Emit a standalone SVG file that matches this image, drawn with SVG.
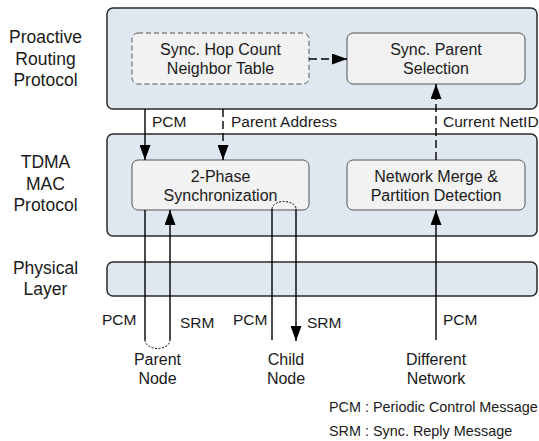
<svg xmlns="http://www.w3.org/2000/svg" width="539" height="441" viewBox="0 0 539 441">
<defs>
<marker id="ah" viewBox="0 0 15 11" refX="15" refY="5.5" markerWidth="15" markerHeight="11" markerUnits="userSpaceOnUse" orient="auto">
<path d="M0,0 L15,5.5 L0,11 Z" fill="#000"/>
</marker>
<style>
text{font-family:"Liberation Sans",Arial,sans-serif;fill:#1a1a1a}
.layer{font-size:17.5px;text-anchor:middle}
.panel{fill:#dfe7f0;stroke:#2b2b2b;stroke-width:1.5}
.box{fill:#f2f2f2;stroke:#555;stroke-width:1}
.bt{font-size:16px;text-anchor:middle}
.lbl{font-size:15.5px}
.nd{font-size:16px;text-anchor:middle}
.lg{font-size:14.4px}
.c{fill:none;stroke:#000;stroke-width:1.4}
.d{stroke-dasharray:8,4}
.dot{fill:none;stroke:#000;stroke-width:1;stroke-dasharray:2,1.5}
</style>
</defs>
<g id="layer-labels">
<text class="layer" x="45.5" y="43">Proactive</text>
<text class="layer" x="45.5" y="64.5">Routing</text>
<text class="layer" x="45.5" y="86">Protocol</text>
<text class="layer" x="45.5" y="168">TDMA</text>
<text class="layer" x="45.5" y="189.5">MAC</text>
<text class="layer" x="45.5" y="211">Protocol</text>
<text class="layer" x="45.5" y="274">Physical</text>
<text class="layer" x="45.5" y="294.5">Layer</text>
</g>
<g id="routing-panel"><rect class="panel" x="107" y="8" width="430" height="101" rx="6"/></g>
<g id="mac-panel"><rect class="panel" x="107" y="134" width="430" height="102" rx="6"/></g>
<g id="phy-panel"><rect class="panel" x="107" y="262" width="430" height="34" rx="6"/></g>
<g id="hop-table"><rect class="box" x="132" y="33" width="177" height="51" rx="6" stroke-dasharray="5,3"/>
<text class="bt" x="220.5" y="55">Sync. Hop Count</text><text class="bt" x="220.5" y="73.5">Neighbor Table</text></g>
<g id="parent-selection"><rect class="box" x="347" y="33" width="178" height="51" rx="6"/>
<text class="bt" x="436" y="55">Sync. Parent</text><text class="bt" x="436" y="73.5">Selection</text></g>
<g id="two-phase"><rect class="box" x="132" y="160" width="177" height="50" rx="6"/>
<text class="bt" x="220.5" y="182">2-Phase</text><text class="bt" x="220.5" y="200.5">Synchronization</text></g>
<g id="merge-detect"><rect class="box" x="347" y="160" width="178" height="50" rx="6"/>
<text class="bt" x="436" y="182">Network Merge &amp;</text><text class="bt" x="436" y="200.5">Partition Detection</text></g>
<g id="connectors">
<line class="c d" x1="309" y1="59" x2="347" y2="59" marker-end="url(#ah)"/>
<line class="c" x1="145" y1="109" x2="145" y2="160" marker-end="url(#ah)"/>
<line class="c d" x1="223" y1="109" x2="223" y2="160" marker-end="url(#ah)"/>
<line class="c d" x1="436" y1="160" x2="436" y2="84" marker-end="url(#ah)"/>
<line class="c" x1="145" y1="210" x2="145" y2="340"/>
<path class="dot" d="M145,340 A12.5,8.5 0 0 0 170,340"/>
<line class="c" x1="170" y1="340" x2="170" y2="210" marker-end="url(#ah)"/>
<line class="c" x1="272" y1="340" x2="272" y2="209"/>
<path class="dot" d="M272,209 A12,7.5 0 0 1 296,209"/>
<line class="c" x1="296" y1="209" x2="296" y2="341" marker-end="url(#ah)"/>
<line class="c" x1="436" y1="340" x2="436" y2="210" marker-end="url(#ah)"/>
</g>
<g id="connector-labels">
<text class="lbl" x="152" y="127">PCM</text>
<text class="lbl" x="231" y="127">Parent Address</text>
<text class="lbl" x="443" y="127">Current NetID</text>
<text class="lbl" x="102" y="325">PCM</text>
<text class="lbl" x="180" y="328">SRM</text>
<text class="lbl" x="233" y="325">PCM</text>
<text class="lbl" x="307" y="328">SRM</text>
<text class="lbl" x="443" y="325">PCM</text>
</g>
<g id="parent-node"><text class="nd" x="157.5" y="365">Parent</text><text class="nd" x="157.5" y="384">Node</text></g>
<g id="child-node"><text class="nd" x="286" y="365">Child</text><text class="nd" x="286" y="384">Node</text></g>
<g id="different-network"><text class="nd" x="436" y="365">Different</text><text class="nd" x="436" y="384">Network</text></g>
<g id="legend">
<text class="lg" x="329" y="411.5">PCM : Periodic Control Message</text>
<text class="lg" x="329" y="435.5">SRM : Sync. Reply Message</text>
</g>
</svg>
